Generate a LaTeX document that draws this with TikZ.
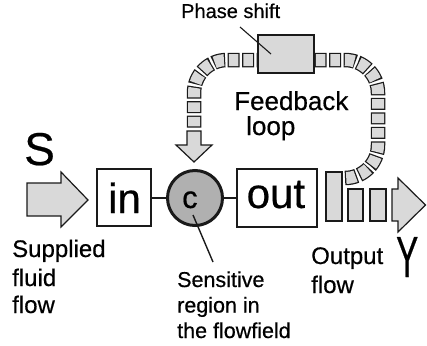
\documentclass[tikz,border=0pt]{standalone}
\usepackage{fontspec}
\setmainfont{Liberation Sans}[FakeBold=0.5]
\definecolor{lg}{HTML}{D9D9D9}
\definecolor{mg}{HTML}{B0B0B0}
\definecolor{ln}{HTML}{1A1A1A}
\begin{document}
\begin{tikzpicture}[x=1pt,y=-1pt,
  lbl/.style={inner sep=0pt, anchor=base west, text=black},
  boxnode/.style={draw=ln, line width=2pt, fill=white, inner sep=0pt, rectangle},
  blk/.style={draw=ln, line width=1.2pt, fill=lg, line join=miter},
  wire/.style={draw=ln, line width=1.5pt},
  leader/.style={draw=ln, line width=1.1pt},
  bandout/.style={draw=ln, line width=14.5pt, line cap=butt, rounded corners=33pt, dash pattern=on 12pt off 2.5pt},
  bandin/.style={draw=lg, line width=12pt, line cap=butt, rounded corners=33pt, dash pattern=on 0pt off 1.25pt on 9.5pt off 3.75pt}]
\useasboundingbox (0,0) rectangle (427,345);

% main boxes
\node[boxnode, minimum width=54pt, minimum height=57pt] (in) at (124,197.5) {};
\node[boxnode, minimum width=80pt, minimum height=58pt] (out) at (277,198) {};
\node[draw=ln, line width=3pt, fill=mg, circle, minimum size=55pt, inner sep=0pt] (c) at (195,198) {};

\draw[wire] (in.east |- c.west) -- (c.west);
\draw[wire] (c.east) -- (out.west |- c.east);

% feedback band
\coordinate (fbstart) at (345,178);
\coordinate (fbend) at (194,129);
\draw[bandout] (fbstart) -- (378,178) -- (378,60) -- (194,60) -- (fbend);
\draw[bandin] (fbstart) -- (378,178) -- (378,60) -- (194,60) -- (fbend);

% arrow into c
\draw[blk] (187,131) -- (201,131) -- (201,145) -- (212,145) -- (194,162) -- (176,145) -- (187,145) -- cycle;

% phase shift box
\node[draw=ln, line width=1.5pt, fill=lg, inner sep=0pt, minimum width=56pt, minimum height=38pt] (ps) at (286,54) {};
\coordinate (psl) at (240,27);
\draw[leader] (psl) -- (271,54);

% input arrow
\draw[blk] (27,183) -- (61,183) -- (61,172) -- (88,200) -- (61,227) -- (61,216) -- (27,216) -- cycle;

% output blocks
\draw[blk] (326,172) rectangle (342,221);
\draw[blk] (348,189) rectangle (363,221);
\draw[blk] (370,189) rectangle (386,221);
\draw[blk] (392,189) -- (398,189) -- (398,178) -- (425.5,205) -- (398,232) -- (398,221) -- (392,221) -- cycle;

% sensitive leader
\coordinate (sl) at (193,215);
\coordinate (sr) at (213,262);
\draw[leader, line width=1.4pt] (sl) -- (sr);

% texts
\node[lbl] (tS) at (24,165) {\fontsize{46}{46}\selectfont S};
\node[lbl] (tin) at (108,213) {\fontsize{42}{42}\selectfont in};
\node[lbl] (tout) at (246.5,208) {\fontsize{42}{42}\selectfont out};
\node[lbl] (tc) at (182,208) {\fontsize{31}{31}\selectfont c};
\node[lbl] (tps) at (181,18) {\fontsize{20}{20}\selectfont Phase shift};
\node[lbl] (tfb) at (234,110) {\fontsize{26}{26}\selectfont Feedback};
\node[lbl] (tlp) at (246,135) {\fontsize{26}{26}\selectfont loop};
\node[lbl] (ts1) at (12,257) {\fontsize{24}{24}\selectfont Supplied};
\node[lbl] (ts2) at (12,286) {\fontsize{24}{24}\selectfont fluid};
\node[lbl] (ts3) at (12,313) {\fontsize{24}{24}\selectfont flow};
\node[lbl] (tr1) at (177,287) {\fontsize{21.5}{21.5}\selectfont Sensitive};
\node[lbl] (tr2) at (177,312.5) {\fontsize{21.5}{21.5}\selectfont region in};
\node[lbl] (tr3) at (177,338) {\fontsize{21.5}{21.5}\selectfont the flowfield};
\node[lbl] (to1) at (311,264) {\fontsize{24}{24}\selectfont Output};
\node[lbl] (to2) at (311,293) {\fontsize{24}{24}\selectfont flow};
\node[lbl] (tY) at (396,277) {\fontsize{58}{58}\selectfont\scalebox{0.57}[1]{Y}};
\end{tikzpicture}
\end{document}
